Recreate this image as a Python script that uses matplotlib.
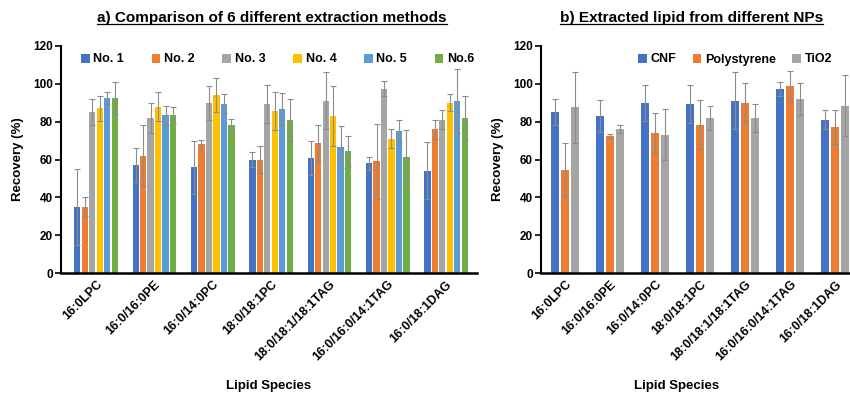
import matplotlib
matplotlib.use("Agg")
import matplotlib.pyplot as plt
import numpy as np

plt.rcParams['font.family'] = ['Liberation Sans', 'DejaVu Sans']

lipids = ["16:0LPC", "16:0/16:0PE", "16:0/14:0PC", "18:0/18:1PC",
          "18:0/18:1/18:1TAG", "16:0/16:0/14:1TAG", "16:0/18:1DAG"]

# Panel a
methods = ["No. 1", "No. 2", "No. 3", "No. 4", "No. 5", "No.6"]
a_vals = [
    [35, 57, 56, 60, 61, 58, 54],
    [35, 62, 68, 60, 68.5, 59, 76],
    [85, 82, 90, 89.5, 91, 97.5, 81],
    [87, 88, 94, 85.5, 83, 71, 90],
    [92.5, 83.5, 89.5, 86.5, 66.5, 75, 91],
    [92.5, 83.5, 78.5, 81, 64.5, 61.5, 82],
]
a_errs = [
    [20, 9, 14, 4, 9, 3.5, 15],
    [5, 16, 2.5, 7, 9.5, 20, 5],
    [7, 8, 9, 10, 15, 4, 5],
    [6.5, 7.5, 9, 10, 16, 5, 4.5],
    [3, 5, 5, 8.5, 11, 6, 17],
    [8.5, 4, 3, 11, 8, 14, 11.5],
]
a_colors = ["#4472C4", "#ED7D31", "#A5A5A5", "#FFC000", "#5B9BD5", "#70AD47"]

# Panel b
nps = ["CNF", "Polystyrene", "TiO2"]
b_vals = [
    [85, 83, 90, 89.5, 91, 97.5, 81],
    [54.5, 72.5, 74, 78.5, 90, 99, 77],
    [87.5, 76, 73, 82, 82, 92, 88.5],
]
b_errs = [
    [6.8, 8.4, 9.5, 10, 15, 3.7, 5],
    [14, 1, 10.5, 13, 10.5, 8, 9],
    [19, 2, 13.5, 6.5, 7.5, 8.5, 16],
]
b_colors = ["#4472C4", "#ED7D31", "#A5A5A5"]

W, H = 850, 395
fig = plt.figure(figsize=(W / 100, H / 100), dpi=100)

ax1 = fig.add_axes([61 / W, 1 - 273 / H, (477 - 61) / W, (273 - 46) / H])
ax2 = fig.add_axes([541 / W, 1 - 273 / H, (850 - 541) / W, (273 - 46) / H])

ekw = dict(ecolor="#8c8c8c", elinewidth=0.8, capsize=2, capthick=0.8)

x = np.arange(len(lipids))
slot_a = 0.128
for i, (vals, errs, c) in enumerate(zip(a_vals, a_errs, a_colors)):
    off = (i - 2.5) * slot_a
    ax1.bar(x + off, vals, width=0.108, color=c, yerr=errs, error_kw=ekw,
            label=methods[i], zorder=2)

slot_b = 0.222
for i, (vals, errs, c) in enumerate(zip(b_vals, b_errs, b_colors)):
    off = (i - 1) * slot_b
    ax2.bar(x + off, vals, width=0.18, color=c, yerr=errs, error_kw=ekw,
            label=nps[i], zorder=2)

ax1.set_xlim(-0.6, 6.53)
ax2.set_xlim(-0.54, 6.33)

for ax in (ax1, ax2):
    ax.set_ylim(0, 120)
    ax.set_yticks(range(0, 121, 20))
    for s in ("top", "right"):
        ax.spines[s].set_visible(False)
    ax.spines["left"].set_linewidth(1.5)
    ax.spines["bottom"].set_linewidth(1.8)
    ax.tick_params(axis="y", labelsize=8.5, width=1.2, length=4, pad=2)
    ax.tick_params(axis="x", length=0, pad=4)
    ax.set_xticks(x)
    ax.set_xticklabels(lipids, rotation=45, ha="right", rotation_mode="anchor",
                       fontsize=9, fontweight="bold")
    for lab in ax.get_yticklabels():
        lab.set_fontweight("bold")
    ax.set_ylabel("Recovery (%)", fontsize=9.5, fontweight="bold", labelpad=6)
    ax.set_xlabel("Lipid Species", fontsize=9.5, fontweight="bold")

ax1.xaxis.set_label_coords(0.5, -0.47)
ax2.xaxis.set_label_coords((677 - 541) / (850 - 541), -0.47)

ax1.legend(ncol=6, loc="upper left", bbox_to_anchor=(0.03, 1.0),
           frameon=False, prop={"weight": "bold", "size": 9},
           handlelength=0.7, handleheight=0.7, handletextpad=0.3,
           columnspacing=2.2, borderaxespad=0.2)
ax2.legend(ncol=3, loc="upper left", bbox_to_anchor=(0.29, 1.0),
           frameon=False, prop={"weight": "bold", "size": 9},
           handlelength=0.7, handleheight=0.7, handletextpad=0.3,
           columnspacing=1.3, borderaxespad=0.2)

titles = [("a) Comparison of 6 different extraction methods", 97, 447),
          ("b) Extracted lipid from different NPs", 560, 823)]
fig.canvas.draw()
r = fig.canvas.get_renderer()
for txt, x0, x1 in titles:
    t = fig.text((x0 + x1) / 2 / W, 1 - 18 / H, txt, ha="center", va="center",
                 fontsize=11, fontweight="bold")
    w = t.get_window_extent(r).width
    t.set_fontsize(11 * (x1 - x0) / w)
    fig.canvas.draw()
    bb = t.get_window_extent(r).transformed(fig.transFigure.inverted())
    fig.add_artist(plt.Line2D([bb.x0, bb.x1], [bb.y0 + 0.002, bb.y0 + 0.002],
                              color="black", lw=0.9, transform=fig.transFigure))

fig.savefig("out.png", dpi=100)
